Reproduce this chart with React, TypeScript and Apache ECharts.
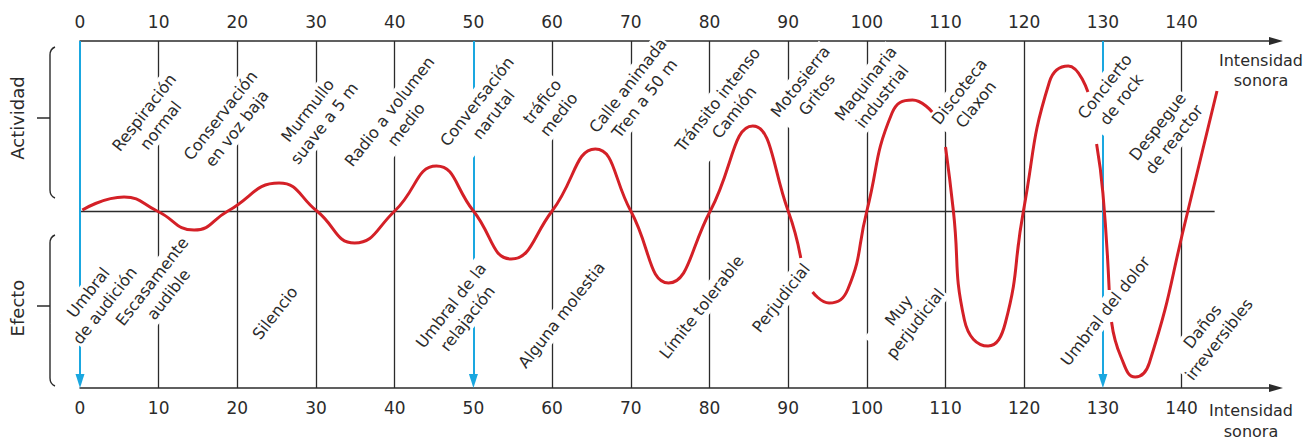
import React, { useEffect, useRef } from "react";
import * as echarts from "echarts";

// Sound intensity (dB) and the oscillating activity/effect level.
// null entries mark breaks in the drawn curve.
const curveDb: (number | null)[] = [
  0.3, 5.6, 9.8, 14.5, 18.8, 25.3, 30.1, 34.9, 40, 45.3, 50, 54.8, 60, 65.5, 70,
  74.8, 80.1, 85.5, 90, 91.6, null,
  93.1, 95.2, 97.6, 100, 103.2, 105.8, 108.3, null,
  110, 111, 112.4, 115.4, 117.6, 119.9, 123.2, 125.6, 128.1, null,
  129.2, 130, 130.8, null,
  131.1, 132.3, 134.1, 135.9, 140.8, 144.5,
];
const curveLevel: (number | null)[] = [
  1, 14, 0, -19, 0, 28, 0, -32, 0, 45, 0, -48, 0, 62, 0,
  -72, 0, 85, 0, -47, null,
  -81, -92, -78, 0, 98, 111, 99, null,
  64, 0, -109, -135, -112, 0, 129, 145, 119, null,
  67, 18, -79, null,
  -111, -146, -166, -152, 0, 120,
];

const tickValues = [0, 10, 20, 30, 40, 50, 60, 70, 80, 90, 100, 110, 120, 130, 140];
const blueMarks = [0, 50, 130];

const actividadLabels = [
  "Respiración\nnormal", "Conservación\nen voz baja", "Murmullo\nsuave a 5 m",
  "Radio a volumen\nmedio", "Conversación\nnarutal", "tráfico\nmedio",
  "Calle animada\nTren a 50 m", "Tránsito intenso\nCamión", "Motosierra\nGritos",
  "Maquinaria\nindustrial", "Discoteca\nClaxon", "Concierto\nde rock",
  "Despegue\nde reactor",
];
const actividadDb = [9.2, 18.9, 30.0, 40.4, 51.5, 59.8, 70.7, 82.1, 92.6, 100.9, 112.8, 131.3, 138.0];
const actividadLevel = [92, 89, 94, 93, 103, 103, 119, 105, 123, 121, 113, 118, 78];

const efectoLabels = [
  "Umbral\nde audición", "Escasamente\naudible", "Silencio", "Umbral de la\nrelajación",
  "Alguna molestia", "Límite tolerable", "Perjudicial", "Muy\nperjudicial",
  "Umbral del dolor", "Daños\nirreversibles",
];
const efectoDb = [2.1, 10.2, 24.8, 48.2, 61.2, 79.0, 89.1, 105.1, 130.3, 143.7];
const efectoLevel = [-88, -77, -102, -101, -104, -96, -87, -106, -100, -122];

const FONT = "DejaVu Sans";
const INK = "#2b2b2b";
const RED = "#d42027";
const BLUE = "#1aa7e0";

let braceRegistered = false;
function registerBrace() {
  if (braceRegistered) return;
  echarts.graphic.registerShape(
    "brace",
    echarts.graphic.extendPath("M55 47 Q50 49 50 55 L50 190 Q50 196 55 198 M37 118 L50 118", {})
  );
  braceRegistered = true;
}

export default function App() {
  const ref = useRef<HTMLDivElement>(null);

  useEffect(() => {
    document.body.style.margin = "0";
    if (!ref.current) return;
    registerBrace();
    const chart = echarts.init(ref.current, null, { renderer: "svg" });

    const curveData = curveDb.map((x, i) =>
      x == null || curveLevel[i] == null ? null : [x, curveLevel[i] as number]
    );

    const splitColors: string[] = [];
    for (let v = 0; v <= 152; v += 10) {
      if (tickValues.indexOf(v) < 0) splitColors.push("rgba(0,0,0,0)");
      else if (blueMarks.indexOf(v) >= 0) splitColors.push("rgba(0,0,0,0)");
      else splitColors.push(INK);
    }
    splitColors.push("rgba(0,0,0,0)");

    const axisCommon: any = {
      type: "value",
      min: 0,
      max: 152,
      interval: 10,
      z: 0,
      axisTick: { show: false },
      axisLine: {
        show: true,
        onZero: false,
        symbol: ["none", "triangle"],
        symbolSize: [8, 14],
        lineStyle: { color: INK, width: 1.5 },
      },
      axisLabel: {
        formatter: (v: number) => (tickValues.indexOf(v) >= 0 ? String(v) : ""),
        fontSize: 17,
        color: INK,
        fontFamily: FONT,
        margin: 11,
      },
    };

    const staticGraphics: any[] = [
      { type: "brace", x: 0, y: 0, style: { stroke: INK, fill: "none", lineWidth: 1.4 } },
      { type: "brace", x: 0, y: 188, style: { stroke: INK, fill: "none", lineWidth: 1.4 } },
      {
        type: "text", x: 17, y: 118, rotation: Math.PI / 2,
        style: { text: "Actividad", fontSize: 18, fontFamily: FONT, fill: INK, align: "center", verticalAlign: "middle" },
      },
      {
        type: "text", x: 17, y: 308, rotation: Math.PI / 2,
        style: { text: "Efecto", fontSize: 18, fontFamily: FONT, fill: INK, align: "center", verticalAlign: "middle" },
      },
      {
        type: "text", x: 1261, y: 70,
        style: { text: "Intensidad\nsonora", fontSize: 16, lineHeight: 20, fontFamily: FONT, fill: INK, align: "center", verticalAlign: "middle" },
      },
      {
        type: "text", x: 1251, y: 421,
        style: { text: "Intensidad\nsonora", fontSize: 16, lineHeight: 21, fontFamily: FONT, fill: INK, align: "center", verticalAlign: "middle" },
      },
    ];

    chart.setOption({
      animation: false,
      grid: { left: 80, right: 31, top: 41, bottom: 52, containLabel: false },
      xAxis: [
        { ...axisCommon, position: "top", splitLine: { show: false } },
        {
          ...axisCommon,
          position: "bottom",
          splitLine: { show: true, lineStyle: { color: splitColors, width: 1.3 } },
        },
      ],
      yAxis: { type: "value", min: -177, max: 170, show: false },
      series: [
        {
          type: "line",
          z: 1,
          silent: true,
          data: [],
          markLine: {
            silent: true,
            label: { show: false },
            symbol: ["none", "none"],
            data: [
              [
                { coord: [0, 0], lineStyle: { color: INK, width: 1.3, type: "solid" } },
                { coord: [144.2, 0] },
              ],
              ...blueMarks.map((x) => [
                { coord: [x, 170], symbol: "none", lineStyle: { color: BLUE, width: 2, type: "solid" } },
                { coord: [x, -170], symbol: "triangle", symbolSize: [9, 14] },
              ]),
            ],
          },
        },
        {
          type: "line",
          z: 60,
          silent: true,
          data: curveData,
          smooth: 0.5,
          connectNulls: false,
          showSymbol: false,
          symbol: "none",
          lineStyle: { color: RED, width: 3 },
        },
      ],
      graphic: staticGraphics,
    });

    const toLabel = (text: string, x: number, y: number) => {
      const p = chart.convertToPixel({ xAxisIndex: 1, yAxisIndex: 0 }, [x, y]) as number[];
      return {
        type: "text",
        x: p[0],
        y: p[1],
        z: 50,
        rotation: (52 * Math.PI) / 180,
        silent: true,
        style: {
          text,
          fontSize: 16,
          lineHeight: 21,
          fontFamily: FONT,
          fill: INK,
          align: "center",
          verticalAlign: "middle",
          backgroundColor: "#ffffff",
          padding: [0, 1],
        },
      };
    };

    const labelGraphics = [
      ...actividadLabels.map((t, i) => toLabel(t, actividadDb[i], actividadLevel[i])),
      ...efectoLabels.map((t, i) => toLabel(t, efectoDb[i], efectoLevel[i])),
    ];

    chart.setOption({ graphic: [...staticGraphics, ...labelGraphics] });

    return () => chart.dispose();
  }, []);

  return <div ref={ref} style={{ width: 1307, height: 440 }} />;
}
